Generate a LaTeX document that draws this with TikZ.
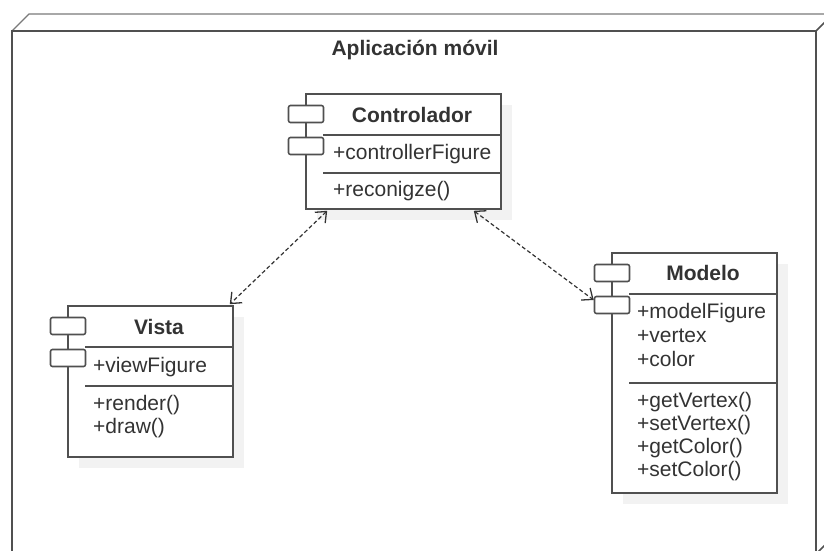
\documentclass[tikz,border=0pt]{standalone}
\usepackage{fontspec}
\setmainfont{Liberation Sans}
\usetikzlibrary{arrows.meta,shadows}
\definecolor{edge}{HTML}{505050}
\definecolor{backedge}{HTML}{7A7A7A}
\definecolor{ink}{HTML}{333333}
\definecolor{shade}{HTML}{F2F2F2}

\begin{document}
\begin{tikzpicture}[x=1pt,y=-1pt,
  every node/.style={font=\fontsize{21}{24}\selectfont, text=ink},
  frame/.style={draw=edge, line width=1.6pt},
  classbox/.style={draw=edge, line width=1.6pt, fill=white, inner sep=0pt,
    drop shadow={shadow xshift=11pt, shadow yshift=-11pt, fill=shade, opacity=1}},
  icon/.style={draw=edge, line width=1.6pt, fill=white, rounded corners=2pt,
    minimum width=35pt, minimum height=17pt, inner sep=0pt},
  sep/.style={draw=edge, line width=1.6pt},
  cname/.style={font=\fontsize{21}{24}\selectfont\bfseries, inner sep=0pt},
  member/.style={anchor=west, inner sep=0pt, text height=15pt, text depth=4pt},
  barb/.tip={Straight Barb[length=9pt,width=15pt,line width=1.3pt]},
  conn/.style={draw=ink, line width=1.2pt, dash pattern=on 4pt off 2.5pt, barb-barb}
]
\useasboundingbox (0,0) rectangle (824,551);

% three-dimensional container
\begin{scope}
  \clip (0,0) rectangle (824,551);
  \draw[draw=backedge, line width=1.4pt] (12,31) -- (29,14) -- (850,14);
  \draw[frame] (816,31) -- (833,14);
  \draw[frame] (816,554) -- (833,537);
  \draw[frame] (12,570) -- (12,31) -- (816,31) -- (816,570);
\end{scope}
\node[cname] (title) at (415,50) {Aplicación móvil};

% Controlador
\node[classbox, minimum width=195pt, minimum height=115pt] (ctrl) at (403.5,151.5) {};
\draw[sep] (323,135) -- (ctrl.east |- 0,135);
\draw[sep] (323,173) -- (ctrl.east |- 0,173);
\node[icon] (ctrl-i1) at (306,114) {};
\node[icon] (ctrl-i2) at (306,146) {};
\node[cname] (ctrl-name) at (412,115) {Controlador};
\node[member] (ctrl-a1) at (333,154) {+controllerFigure};
\node[member] (ctrl-m1) at (333,191) {+reconigze()};

% Vista
\node[classbox, minimum width=165pt, minimum height=151pt] (vista) at (150.5,381.5) {};
\draw[sep] (85,347) -- (vista.east |- 0,347);
\draw[sep] (85,386) -- (vista.east |- 0,386);
\node[icon] (vista-i1) at (68,326) {};
\node[icon] (vista-i2) at (68,358) {};
\node[cname] (vista-name) at (159,327) {Vista};
\node[member] (vista-a1) at (93,367) {+viewFigure};
\node[member] (vista-m1) at (93,405) {+render()};
\node[member] (vista-m2) at (93,428) {+draw()};

% Modelo
\node[classbox, minimum width=165pt, minimum height=240pt] (mdl) at (694.5,373) {};
\draw[sep] (629,294) -- (mdl.east |- 0,294);
\draw[sep] (629,383) -- (mdl.east |- 0,383);
\node[icon] (mdl-i1) at (612,273) {};
\node[icon] (mdl-i2) at (612,305) {};
\node[cname] (mdl-name) at (703,273) {Modelo};
\node[member] (mdl-a1) at (637,313) {+modelFigure};
\node[member] (mdl-a2) at (637,337) {+vertex};
\node[member] (mdl-a3) at (637,361) {+color};
\node[member] (mdl-m1) at (637,402) {+getVertex()};
\node[member] (mdl-m2) at (637,425) {+setVertex()};
\node[member] (mdl-m3) at (637,448) {+getColor()};
\node[member] (mdl-m4) at (637,471) {+setColor()};

% dependencies
\coordinate (cv1) at ([xshift=22pt,yshift=-1pt]ctrl.south west);
\coordinate (cv2) at ([xshift=-4pt,yshift=1pt]vista.north east);
\coordinate (cm1) at ([xshift=-28pt,yshift=-1pt]ctrl.south east);
\coordinate (cm2) at ([yshift=5pt]mdl-i2.west);
\draw[conn] (cv1) -- (cv2);
\draw[conn] (cm1) -- (cm2);
\end{tikzpicture}
\end{document}
